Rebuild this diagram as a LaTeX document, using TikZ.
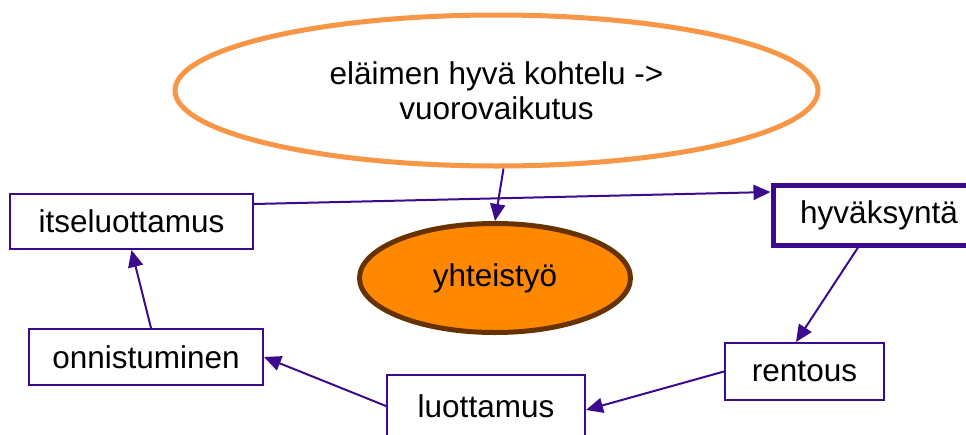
\documentclass[tikz,border=0pt]{standalone}
\usepackage{fontspec}
\setmainfont{Liberation Sans}
\usetikzlibrary{arrows.meta,shapes.geometric}
\definecolor{linja}{RGB}{60,10,140}
\definecolor{vaalea}{RGB}{247,150,70}
\definecolor{oranssi}{RGB}{255,136,0}
\definecolor{ruskea}{RGB}{102,51,0}
\tikzset{
	every node/.style={font=\fontsize{31.5}{35}\selectfont, inner sep=0pt},
	laatikko/.style={draw=linja, line width=2pt, fill=white},
	nuoli/.style={draw=linja, line width=2pt, -{Triangle[length=17pt,width=15pt]}}
}

\begin{document}
\begin{tikzpicture}[x=1pt,y=-1pt]
	\useasboundingbox (0,0) rectangle (966,434);
	\node (yla) at (496.5,90.5) [ellipse, draw=vaalea, line width=5pt, minimum width=643pt, minimum height=151pt, align=center] {eläimen hyvä kohtelu ->\\vuorovaikutus};
	\node (yht) at (495,278) [ellipse, draw=ruskea, fill=oranssi, line width=5pt, minimum width=271pt, minimum height=109pt] {yhteistyö};
	\node (itse) at (131.5,221.5) [laatikko, minimum width=243pt, minimum height=55pt] {itseluottamus};
	\node (onni) at (146,357) [laatikko, minimum width=234pt, minimum height=56pt] {onnistuminen};
	\node (luot) at (486,406) [laatikko, minimum width=198pt, minimum height=62pt] {luottamus};
	\node (rent) at (804.5,371.5) [laatikko, minimum width=159pt, minimum height=57pt] {rentous};
	\node (hyv) at (879,215) [laatikko, line width=5pt, minimum width=212pt, minimum height=60pt] {hyväksyntä};
	\draw[nuoli] ([xshift=7pt]yla.south) -- (yht.north);
	\draw[nuoli] ([yshift=17.5pt]itse.east) -- ([yshift=23pt]hyv.west);
	\draw[nuoli] ([xshift=-21pt]hyv.south) -- ([xshift=-8.5pt]rent.north);
	\draw[nuoli] (rent.west) -- ([yshift=-4pt]luot.east);
	\draw[nuoli] (luot.west) -- (onni.east);
	\draw[nuoli] ([xshift=5pt]onni.north) -- (itse.south);
\end{tikzpicture}
\end{document}
